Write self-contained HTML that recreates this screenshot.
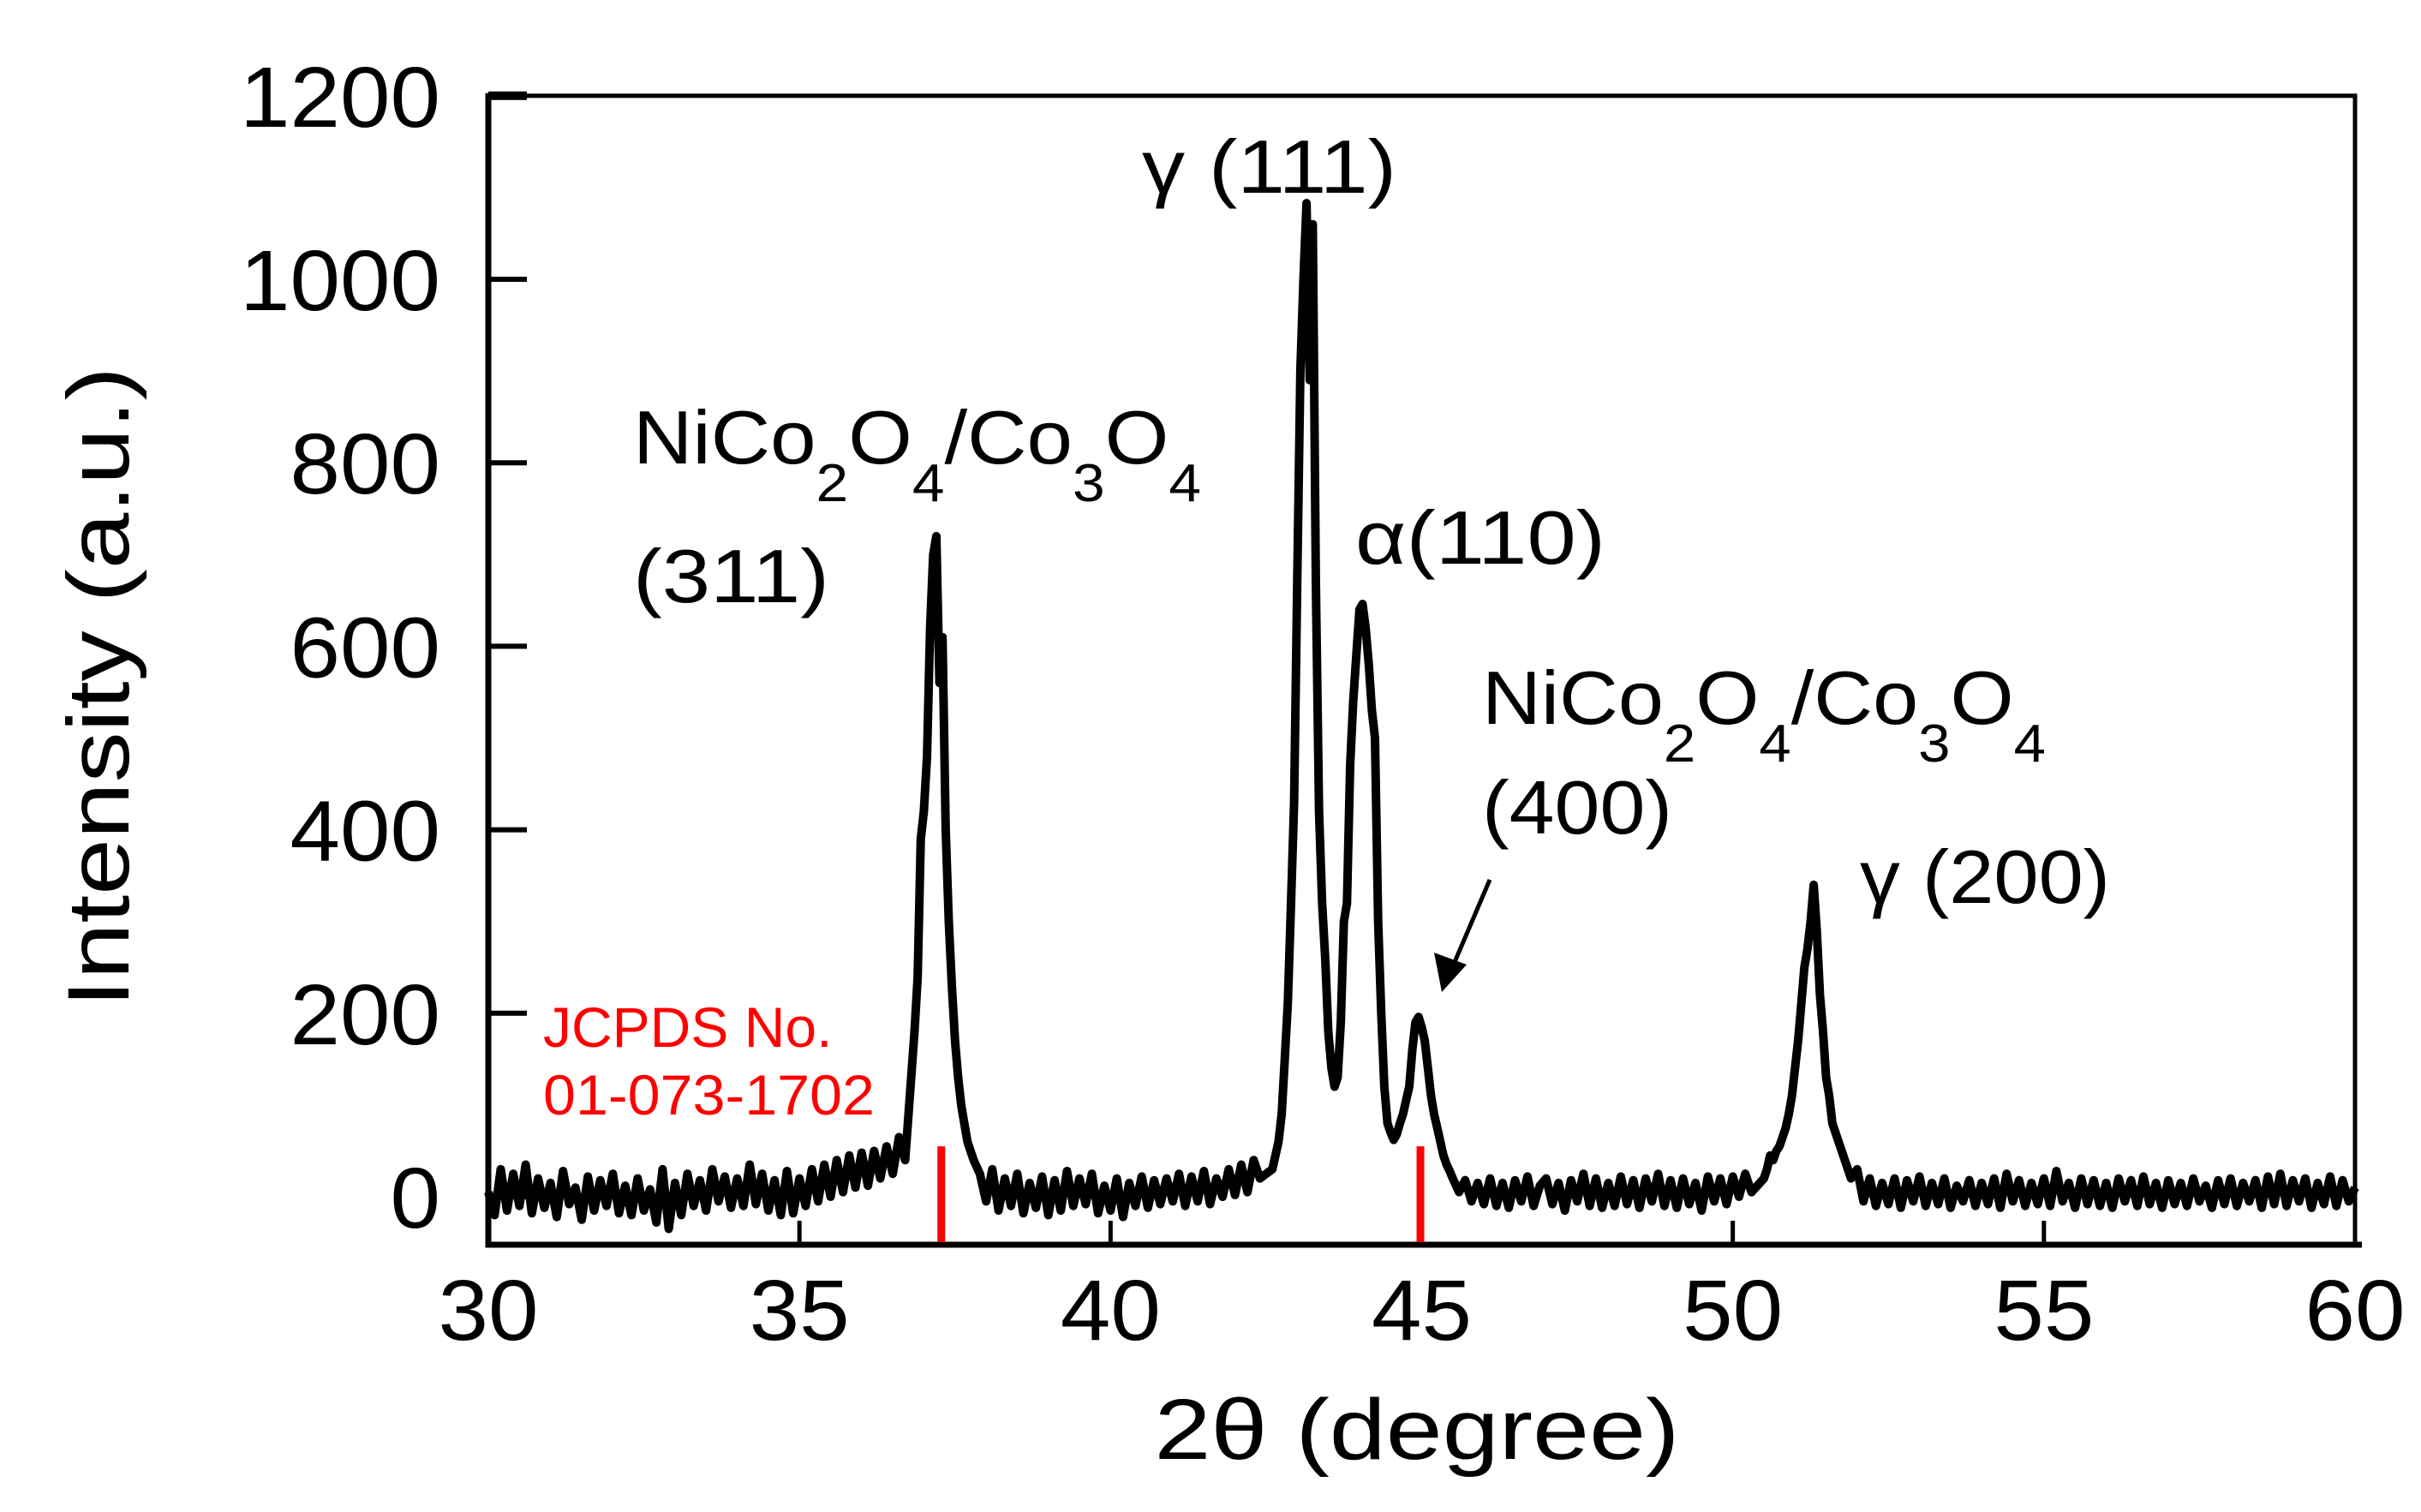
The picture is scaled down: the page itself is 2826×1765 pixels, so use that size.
<!DOCTYPE html>
<html><head><meta charset="utf-8"><style>
html,body{margin:0;padding:0;background:#fff;}
svg{display:block;}
text{font-family:"Liberation Sans",Arial,sans-serif;}
</style></head><body>
<svg id="chart" width="2826" height="1765" viewBox="0 0 2826 1765" xmlns="http://www.w3.org/2000/svg">
<g id="axes"></g>
<path id="series" fill="none" stroke="#000" stroke-width="10" stroke-linejoin="round"></path>
<g id="refs"></g>
<g id="labels">
<text transform="translate(150,802) rotate(-90)" text-anchor="middle" font-size="102" textLength="748" lengthAdjust="spacingAndGlyphs">Intensity (a.u.)</text>
<text x="1654" y="1703" text-anchor="middle" font-size="100" textLength="613" lengthAdjust="spacingAndGlyphs">2θ (degree)</text>
<text x="739" y="541" font-size="88" textLength="663" lengthAdjust="spacingAndGlyphs">NiCo<tspan font-size="62" dy="44">2</tspan><tspan dy="-44">O</tspan><tspan font-size="62" dy="44">4</tspan><tspan dy="-44">/Co</tspan><tspan font-size="62" dy="44">3</tspan><tspan dy="-44">O</tspan><tspan font-size="62" dy="44">4</tspan></text>
<text x="739" y="703" font-size="88" textLength="229" lengthAdjust="spacingAndGlyphs">(311)</text>
<text x="1333" y="225" font-size="88" textLength="297" lengthAdjust="spacingAndGlyphs">γ (111)</text>
<text x="1582" y="658" font-size="88" textLength="292" lengthAdjust="spacingAndGlyphs">α(110)</text>
<text x="1730" y="845" font-size="88" textLength="658" lengthAdjust="spacingAndGlyphs">NiCo<tspan font-size="62" dy="44">2</tspan><tspan dy="-44">O</tspan><tspan font-size="62" dy="44">4</tspan><tspan dy="-44">/Co</tspan><tspan font-size="62" dy="44">3</tspan><tspan dy="-44">O</tspan><tspan font-size="62" dy="44">4</tspan></text>
<text x="1730" y="973" font-size="88" textLength="222" lengthAdjust="spacingAndGlyphs">(400)</text>
<text x="2171" y="1054" font-size="88" textLength="292" lengthAdjust="spacingAndGlyphs">γ (200)</text>
<text x="634" y="1222" font-size="66" fill="#ff0000">JCPDS No.</text>
<text x="634" y="1301" font-size="66" fill="#ff0000" textLength="387" lengthAdjust="spacingAndGlyphs">01-073-1702</text>
<line x1="1739" y1="1027" x2="1695" y2="1130" stroke="#000" stroke-width="5"/>
<polygon points="1683,1158 1674,1112 1712,1126" fill="#000"/>
</g>
</svg>
<script>
const xTicks = [30,35,40,45,50,55,60];
const yTicks = [0,200,400,600,800,1000,1200];
const refPeaks = [37.28, 44.98];
const refHeight = 55;
// segments: start angle, step, intensity values
const segStarts = [30.0, 36.85, 37.9, 42.6, 45.6, 50.5, 52.0];
const segSteps = [0.1, 0.05, 0.1, 0.05, 0.1, 0.05, 0.1];
const seg0 = [5,-20,30,-15,25,-10,35,-18,20,-12,15,-22,28,-8,10,-25,22,-15,18,-10,
 25,-18,12,-20,20,-15,8,-28,30,-35,15,-20,25,-10,18,-15,30,-5,22,-12,
 20,-10,35,-8,25,-15,18,-20,28,-18,20,-10,30,-5,35,0,40,5,45,10,
 48,12,50,20,55,25,65,40];
const seg1 = [180,240,390,420,480,620,700,720,560,610,400,300,230,170,130,100,80,60,50,40];
const seg2 = [25,-5,30,-15,20,-10,25,-18,15,-12,22,-20,
 18,-15,28,-10,20,-8,25,-18,12,-15,
 20,-22,15,-10,22,-12,18,-8,20,-5,
 25,-10,22,-5,28,-8,20,0,30,2,
 35,5,40,20];
const seg3 = [30,45,60,90,150,212,320,430,668,900,1000,1083,890,1060,668,420,320,260,180,140,120,130,190,300,320,470,540,590,640,646,620,580,530,500,300,200,120,80,70,62,68,80,90,105,120,160,190,196,185,170,140,110,90,75,60,45,35,28,20];
const seg4 = [5,18,-5,15,-8,
 20,-10,15,-12,18,-5,22,-10,12,
 20,-8,15,-15,18,-5,25,-10,20,-12,
 15,-10,22,-8,18,-12,20,-5,25,-10,
 18,-12,20,-8,15,-15,22,-5,20,-8,
 22,0,25,5];
const seg5 = [20,30,45,40,50,55,65,75,90,110,140,170,210,250,270,300,340,290,220,180,130,110,80,70,60,50,40,30,20];
const seg6 = [30,-5,20,-10,15,-8,20,-12,18,-5,
 22,-10,15,-8,20,-12,12,-5,18,-10,
 15,-8,20,-12,25,-5,18,-10,15,-8,
 20,-10,28,-5,15,-12,20,-8,18,-10,
 15,-12,20,-5,18,-10,22,-8,15,-12,
 18,-8,15,-10,20,-5,12,-12,18,-8,
 20,-10,15,-5,18,-12,22,-8,25,-10,
 18,-5,20,-12,15,-8,22,-10,18,-5,10];
const segValues = [seg0,seg1,seg2,seg3,seg4,seg5,seg6];

const X0=570, X1=2749, Y0=1397, YK=1.071;
function sx(d){return X0+(d-30)*(X1-X0)/30;}
function sy(v){return Y0-v*YK;}
const NS='http://www.w3.org/2000/svg';
function mk(tag,attrs,parent){const e=document.createElementNS(NS,tag);for(const k in attrs)e.setAttribute(k,attrs[k]);parent.appendChild(e);return e;}

const axes=document.getElementById('axes');
let e;
e=mk('rect',{x:X0,y:sy(1200),width:X1-X0,height:1453-sy(1200),fill:'none',stroke:'#000','stroke-width':5},axes);


e=mk('line',{x1:X0,y1:sy(1200)-3,x2:X0,y2:1456,stroke:'#000','stroke-width':7},axes);


e=mk('line',{x1:X0-3,y1:1453,x2:X1+8,y2:1453,stroke:'#000','stroke-width':7},axes);


yTicks.forEach(v=>{
  const y=sy(v);
  const t=mk('line',{x1:X0,y1:y,x2:X0+45,y2:y,stroke:'#000','stroke-width':v===1200?10:6},axes);
  
  
  const s=String(v);
  const l=mk('text',{x:514,y:y+36,'text-anchor':'end','font-size':100,textLength:s.length*58.5,lengthAdjust:'spacingAndGlyphs'},axes);
  
  
  l.textContent=s;
});
xTicks.forEach(v=>{
  const x=sx(v);
  const t=mk('line',{x1:x,y1:1453,x2:x,y2:1425,stroke:'#000','stroke-width':5},axes);
  
  
  const s=String(v);
  const l=mk('text',{x:x,y:1564,'text-anchor':'middle','font-size':100,textLength:s.length*58.5,lengthAdjust:'spacingAndGlyphs'},axes);
  
  
  l.textContent=s;
});
let d='';
segValues.forEach((vals,i)=>{
  vals.forEach((v,j)=>{
    const a=segStarts[i]+j*segSteps[i];
    d+=(d?'L':'M')+sx(a).toFixed(1)+','+sy(v).toFixed(1);
  });
});
document.getElementById('series').setAttribute('d',d);
const refs=document.getElementById('refs');
refPeaks.forEach(p=>{
  const r=mk('line',{x1:sx(p),y1:sy(refHeight),x2:sx(p),y2:1450,stroke:'#ff0000','stroke-width':9},refs);
  
  
});
</script>
</body></html>
